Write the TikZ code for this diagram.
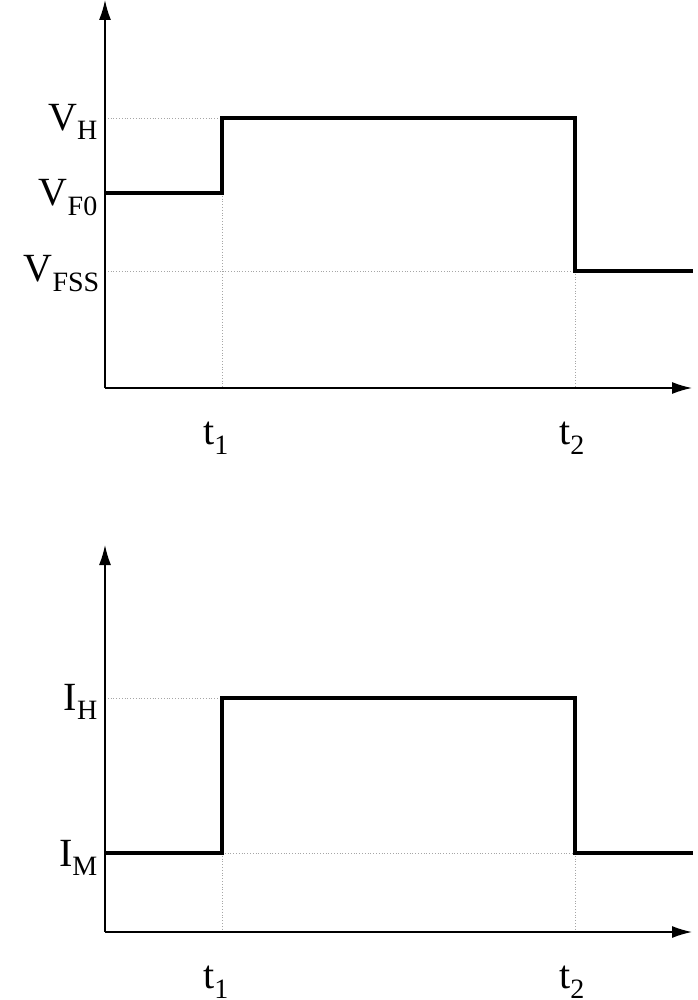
\documentclass[tikz,border=0pt]{standalone}
\usepackage{fontspec}
\setmainfont{Liberation Serif}
\usetikzlibrary{arrows.meta}
\begin{document}
\begin{tikzpicture}[x=1pt,y=-1pt,
  axis/.style={line width=1.5pt,-{Latex[length=20pt,width=12pt]}},
  sig/.style={line width=4pt,line join=miter},
  guide/.style={gray!70,dotted,line width=0.8pt},
  lab/.style={font=\fontsize{40}{40}\selectfont,inner sep=0pt}]
\useasboundingbox (0,0) rectangle (697,1000);
% top plot
\coordinate (o1) at (105,388);
\coordinate (ya) at (105,0);
\coordinate (xa) at (692,388);
\draw[guide] (105,118) -- (222,118);
\draw[guide] (105,271) -- (575,271);
\draw[guide] (222,193) -- (222,388);
\draw[guide] (575,271) -- (575,388);
\draw[axis] (o1) -- (ya);
\draw[axis] (o1) -- (xa);
\draw[sig] (105,193) -- (222,193) -- (222,118) -- (575,118) -- (575,271) -- (693,271);
\node[lab,anchor=east] (vh) at (98,122) {V\textsubscript{H}};
\node[lab,anchor=east] (vf0) at (98,198) {V\textsubscript{F0}};
\node[lab,anchor=east] (vfss) at (100,274) {V\textsubscript{FSS}};
\node[lab] (t1a) at (216,438) {t\textsubscript{1}};
\node[lab] (t2a) at (572,438) {t\textsubscript{2}};
% bottom plot
\coordinate (o2) at (105,932);
\coordinate (yb) at (105,545);
\coordinate (xb) at (692,932);
\draw[guide] (105,698) -- (222,698);
\draw[guide] (222,853) -- (575,853);
\draw[guide] (222,853) -- (222,932);
\draw[guide] (575,853) -- (575,932);
\draw[axis] (o2) -- (yb);
\draw[axis] (o2) -- (xb);
\draw[sig] (105,853) -- (222,853) -- (222,698) -- (575,698) -- (575,853) -- (693,853);
\node[lab,anchor=east] (ih) at (98,702) {I\textsubscript{H}};
\node[lab,anchor=east] (im) at (98,858) {I\textsubscript{M}};
\node[lab] (t1b) at (216,982) {t\textsubscript{1}};
\node[lab] (t2b) at (572,982) {t\textsubscript{2}};
\end{tikzpicture}
\end{document}
